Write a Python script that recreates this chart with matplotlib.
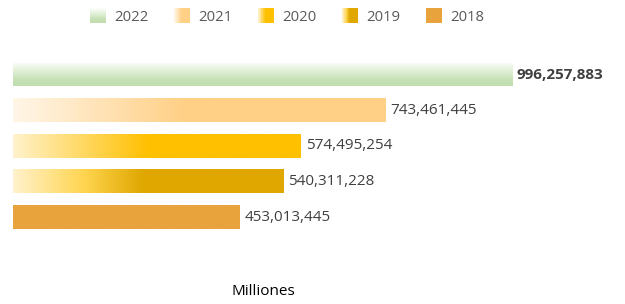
import numpy as np
import matplotlib
matplotlib.use("Agg")
import matplotlib.pyplot as plt
from matplotlib.colors import LinearSegmentedColormap
from matplotlib.patches import Rectangle
from matplotlib.legend_handler import HandlerBase

plt.rcParams['font.family'] = ['Open Sans', 'DejaVu Sans']

# ---- data ----
years = ['2022', '2021', '2020', '2019', '2018']
values = [996257883, 743461445, 574495254, 540311228, 453013445]
axis_label = 'Milliones'

# gradient stops per series: (position, colour); direction
grad_stops = {
    '2022': [(0.0, '#fbfdf9'), (0.75, '#c5e0b4'), (1.0, '#c2deb0')],
    '2021': [(0.0, '#fff6e8'), (0.46, '#ffd086'), (1.0, '#ffd086')],
    '2020': [(0.0, '#fff2cc'), (0.47, '#ffc000'), (1.0, '#ffc000')],
    '2019': [(0.0, '#fff2cc'), (0.26, '#ffd550'), (0.48, '#dfa700'), (1.0, '#dfa700')],
    '2018': [(0.0, '#e8a33d'), (1.0, '#e8a33d')],
}
grad_dir = {'2022': 'v', '2021': 'h', '2020': 'h', '2019': 'h', '2018': 'h'}


def make_cmap(name):
    return LinearSegmentedColormap.from_list(name, grad_stops[name])


fig = plt.figure(figsize=(6.25, 3.04), dpi=100)
ax = fig.add_axes([13 / 625, 0.1924, 501.0 / 625, 0.6326])

vals_m = np.array(values) / 1e6
ypos = np.arange(len(years))[::-1]
h = 0.67
bars = ax.barh(ypos, vals_m, height=h, color='none', edgecolor='none')

N = 256
for name, bar, y, v in zip(years, bars, ypos, vals_m):
    cmap = make_cmap(name)
    t = np.linspace(0, 1, N)
    cols = cmap(t)[:, :3]
    if grad_dir[name] == 'h':
        img = cols[np.newaxis, :, :]
    else:
        img = cols[:, np.newaxis, :]  # row 0 at top
    im = ax.imshow(img, extent=[0, v, y - h / 2, y + h / 2], aspect='auto',
                   interpolation='bilinear', origin='upper', zorder=2)
    im.set_clip_path(bar)

for i, (y, v, raw) in enumerate(zip(ypos, vals_m, values)):
    ax.annotate(f"{raw:,}", xy=(v, y), xytext=(3.5, 0), textcoords='offset points',
                va='center', ha='left', fontsize=11, color='#404040',
                fontweight='bold' if i == 0 else 'normal')

ax.set_xlim(0, 1000)
ax.set_ylim(-0.8, 4.6)
for s in ax.spines.values():
    s.set_visible(False)
ax.set_xticks([])
ax.set_yticks([])
ax.set_xlabel(axis_label, fontsize=11, color='#000000')
ax.xaxis.label.set_va('center')
ax.xaxis.set_label_coords(0.5, -0.239)


class GradHandler(HandlerBase):
    def create_artists(self, legend, orig_handle, xdescent, ydescent,
                       width, height, fontsize, trans):
        name = orig_handle
        cmap = make_cmap(name)
        arts = []
        n = 24
        for k in range(n):
            c = cmap((k + 0.5) / n)
            if grad_dir[name] == 'h':
                r = Rectangle((-xdescent + width * k / n, -ydescent), width / n * 1.05, height,
                              facecolor=c, edgecolor='none', transform=trans)
            else:
                r = Rectangle((-xdescent, -ydescent + height * (1 - (k + 1) / n)), width, height / n * 1.05,
                              facecolor=c, edgecolor='none', transform=trans)
            arts.append(r)
        return arts


leg = fig.legend(years, years, handler_map={str: GradHandler()},
                 loc='center', bbox_to_anchor=(287 / 625, 1 - 16.5 / 304), ncol=5,
                 frameon=False, fontsize=10.7, handlelength=1.05, handleheight=1.1,
                 handletextpad=0.55, columnspacing=1.75, borderpad=0, borderaxespad=0)
for t in leg.get_texts():
    t.set_color('#595959')

fig.savefig('out.png', dpi=100)
